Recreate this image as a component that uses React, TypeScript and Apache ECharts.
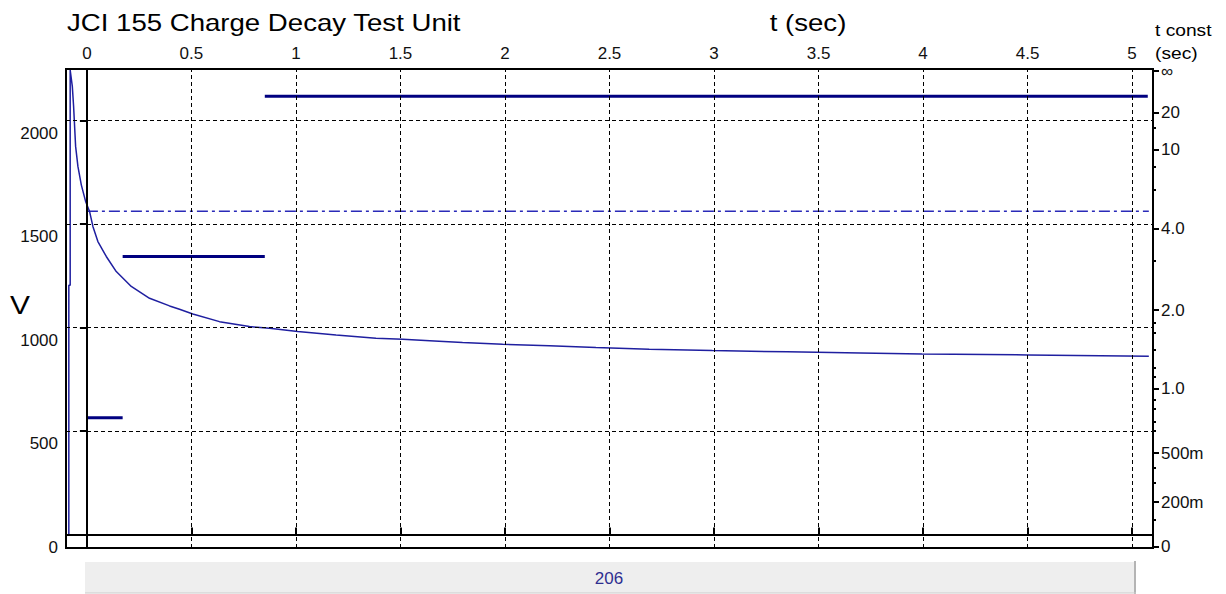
import React, { useEffect, useRef } from "react";
import * as echarts from "echarts";

// ---- data ----
const tSec = [-0.0865, -0.0865, -0.08, -0.08, -0.0698, -0.0636, -0.054, -0.043, -0.0268, -0.0062, 0.0129, 0.0287, 0.0526, 0.0927, 0.1405, 0.2122, 0.2997, 0.3953, 0.443, 0.5067, 0.6343, 0.7777, 0.8733, 1.0086, 1.192, 1.383, 1.511, 1.662, 1.797, 1.989, 2.212, 2.435, 2.69, 2.992, 3.351, 3.7, 3.995, 4.5, 5.08];
const volts = [0, 1205, 1205, 2245, 2166, 2069, 1876, 1779, 1690, 1610, 1561, 1489, 1416, 1344, 1271, 1199, 1142, 1105, 1089, 1066, 1029, 1005, 997, 981, 965, 949, 944, 936, 928, 920, 912, 904, 896, 889, 883, 878, 873, 868, 862];

const markerStart = [0, 0.171, 0.851];
const markerEnd = [0.171, 0.851, 5.075];
const markerLevel = [565, 1344, 2118];

const v0Level = 1562;
const v0Start = 0;
const v0End = 5.08;

const vTicks = [0, 500, 1000, 1500, 2000];
const tTicks = [0, 0.5, 1, 1.5, 2, 2.5, 3, 3.5, 4, 4.5, 5];
const tGrid = [0.5, 1, 1.5, 2, 2.5, 3, 3.5, 4, 4.5, 5];
const vGrid = [500, 1000, 1500, 2000];

const tConstLabels = ["∞", "20", "10", "4.0", "2.0", "1.0", "500m", "200m", "0"];
const tConstMajorAt = [2240, 2040, 1860, 1480, 1085, 704, 394, 157, -60];
const tConstMinorAt = [1966, 1778, 1665, 1322, 1023, 975, 892, 805, 762, 651, 607, 544, 501, 322, 249, 71];

const counterText = "206";

const SANS = '"Liberation Sans", Arial, sans-serif';

export default function App() {
  const ref = useRef<HTMLDivElement>(null);
  useEffect(() => {
    if (!ref.current) return;
    const chart = echarts.init(ref.current, undefined, { renderer: "svg" });
    const yMin = -65;
    const yMax = 2250;

    const markerData: any[] = [];
    markerStart.forEach((s, i) => {
      markerData.push([s, markerLevel[i]]);
      markerData.push([markerEnd[i], markerLevel[i]]);
      if (i < markerStart.length - 1) markerData.push([markerEnd[i], null]);
    });

    const dashed = { color: "#000", width: 1, type: [4, 3] as any };
    const tickFont = { color: "#111", fontFamily: SANS, fontSize: 17 };

    const option: any = {
      animation: false,
      grid: {
        left: 66,
        right: 73,
        top: 69,
        bottom: 46,
        show: true,
        borderColor: "#000",
        borderWidth: 2,
        backgroundColor: "transparent",
      },
      xAxis: {
        type: "value",
        position: "top",
        min: -0.1,
        max: 5.1,
        axisLine: { show: false },
        splitLine: { show: false },
        axisTick: {
          show: true,
          inside: false,
          length: 7,
          customValues: tTicks,
          lineStyle: { color: "#000", width: 2 },
        },
        axisLabel: {
          customValues: tTicks,
          margin: 7,
          ...tickFont,
          formatter: (v: number) => String(v),
        },
      },
      yAxis: [
        {
          type: "value",
          position: "left",
          min: yMin,
          max: yMax,
          axisLine: { show: false },
          splitLine: { show: false },
          axisTick: {
            show: true,
            length: 7,
            customValues: vTicks,
            lineStyle: { color: "#000", width: 2 },
          },
          axisLabel: {
            customValues: vTicks,
            margin: 8,
            ...tickFont,
            verticalAlign: "top",
            padding: [4, 0, 0, 0],
            formatter: (v: number) => String(v),
          },
        },
        {
          type: "value",
          position: "right",
          min: yMin,
          max: yMax,
          axisLine: { show: false },
          splitLine: { show: false },
          axisTick: {
            show: true,
            length: 6,
            customValues: tConstMajorAt,
            lineStyle: { color: "#000", width: 2 },
          },
          axisLabel: {
            customValues: tConstMajorAt,
            margin: 8,
            ...tickFont,
            formatter: (v: number) => {
              const i = tConstMajorAt.indexOf(v);
              return i >= 0 ? tConstLabels[i] : "";
            },
          },
        },
        {
          type: "value",
          position: "right",
          min: yMin,
          max: yMax,
          axisLine: { show: false },
          splitLine: { show: false },
          axisTick: {
            show: true,
            length: 3,
            customValues: tConstMinorAt,
            lineStyle: { color: "#000", width: 2 },
          },
          axisLabel: { show: false },
        },
      ],
      series: [
        {
          name: "V0",
          type: "line",
          z: 1,
          symbol: "none",
          data: [
            [v0Start, v0Level],
            [v0End, v0Level],
          ],
          lineStyle: { color: "#2a2ab8", width: 1.5, type: [11, 4, 3, 4] },
          markLine: {
            silent: true,
            symbol: ["none", "none"],
            label: { show: false },
            animation: false,
            lineStyle: dashed,
            data: [
              ...vGrid.map((v) => ({ yAxis: v, lineStyle: dashed })),
              ...tGrid.map((t) => ({ xAxis: t, lineStyle: dashed })),
              { yAxis: 0, lineStyle: { color: "#000", width: 2, type: "solid" } },
              { xAxis: 0, lineStyle: { color: "#000", width: 2, type: "solid" } },
            ],
          },
        },
        {
          name: "decay",
          type: "line",
          z: 3,
          symbol: "none",
          data: tSec.map((t, i) => [t, volts[i]]),
          lineStyle: { color: "#1f1fa0", width: 1.5 },
        },
        {
          name: "tconst",
          type: "line",
          z: 4,
          symbol: "none",
          connectNulls: false,
          data: markerData,
          lineStyle: { color: "#000080", width: 3 },
        },
      ],
      graphic: [
        {
          type: "text",
          x: 67,
          y: 22.5,
          scaleX: 1.2,
          style: {
            text: "JCI 155 Charge Decay Test Unit",
            fontFamily: SANS,
            fontSize: 23,
            fill: "#000",
            verticalAlign: "middle",
            align: "left",
          },
        },
        {
          type: "text",
          x: 808,
          y: 22.5,
          scaleX: 1.2,
          style: {
            text: "t (sec)",
            fontFamily: SANS,
            fontSize: 23,
            fill: "#000",
            verticalAlign: "middle",
            align: "center",
          },
        },
        {
          type: "text",
          x: 20,
          y: 305,
          scaleX: 1.15,
          style: {
            text: "V",
            fontFamily: SANS,
            fontSize: 26,
            fill: "#000",
            verticalAlign: "middle",
            align: "center",
          },
        },
        {
          type: "text",
          x: 1155,
          y: 31,
          scaleX: 1.2,
          style: {
            text: "t const",
            fontFamily: SANS,
            fontSize: 16,
            fill: "#000",
            verticalAlign: "middle",
            align: "left",
          },
        },
        {
          type: "text",
          x: 1155,
          y: 54,
          scaleX: 1.2,
          style: {
            text: "(sec)",
            fontFamily: SANS,
            fontSize: 16,
            fill: "#000",
            verticalAlign: "middle",
            align: "left",
          },
        },
        {
          type: "rect",
          shape: { x: 85, y: 562, width: 1051, height: 31 },
          style: { fill: "#eeeeee" },
        },
        {
          type: "line",
          shape: { x1: 1135, y1: 561, x2: 1135, y2: 594 },
          style: { stroke: "#b4b4b4", lineWidth: 2 },
        },
        {
          type: "line",
          shape: { x1: 85, y1: 593, x2: 1136, y2: 593 },
          style: { stroke: "#cccccc", lineWidth: 1 },
        },
        {
          type: "text",
          x: 609,
          y: 578,
          style: {
            text: counterText,
            fontFamily: SANS,
            fontSize: 17,
            fill: "#2e2e90",
            verticalAlign: "middle",
            align: "center",
          },
        },
      ],
    };
    chart.setOption(option);
    return () => chart.dispose();
  }, []);
  return (
    <div
      ref={ref}
      style={{ position: "absolute", left: 0, top: 0, width: 1226, height: 594, background: "#fff" }}
    />
  );
}
